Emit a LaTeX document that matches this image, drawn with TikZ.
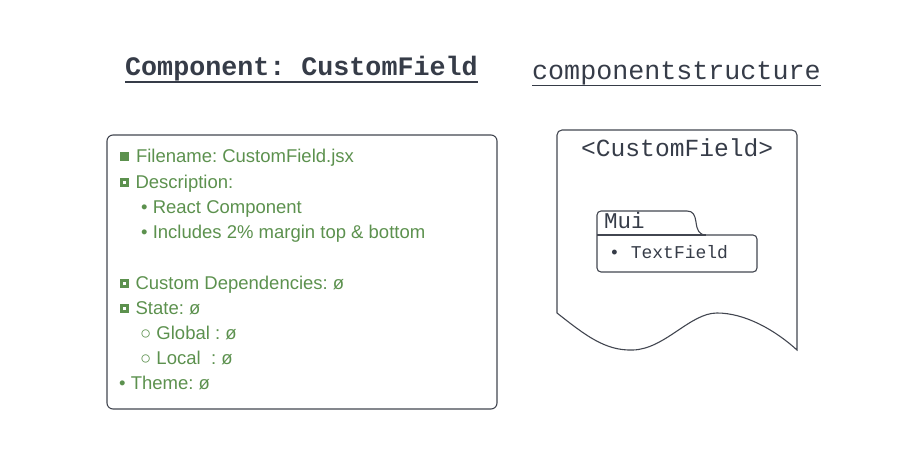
\documentclass[tikz,border=0pt]{standalone}
\usepackage{fontspec}
\setmainfont{Liberation Sans}
\setmonofont{Liberation Mono}
\usepackage{xcolor}
\usetikzlibrary{positioning}
\definecolor{inkdark}{RGB}{54,60,72}
\definecolor{edgegray}{RGB}{66,70,80}
\definecolor{leafgreen}{RGB}{92,145,78}
\frenchspacing
% bullet marks of the list
\newcommand{\fillsq}{\rule[1pt]{8.8pt}{8.8pt}}
\newcommand{\hollowsq}{\makebox[9.4pt][l]{\rule[0.7pt]{9.4pt}{9.4pt}\hspace{-6.5pt}\textcolor{white}{\rule[3.6pt]{3.6pt}{3.6pt}}}}

\begin{document}
\begin{tikzpicture}[x=1pt, y=-1pt,
    heading/.style={inner sep=0pt, anchor=base west, text=inkdark, font=\ttfamily\fontsize{26.7}{30}\selectfont},
    item/.style={inner sep=0pt, anchor=base west, text=leafgreen, font=\fontsize{18.5}{22}\selectfont},
    codetext/.style={inner sep=0pt, anchor=base west, text=inkdark, font=\ttfamily},
    edge/.style={draw=edgegray, line width=1.1pt}]

    \useasboundingbox (0,0) rectangle (898,450);

    % Headings with underlines
    \node[heading, font=\ttfamily\bfseries\fontsize{26.7}{30}\selectfont] (title) at (125,75) {Component: CustomField};
    \draw[inkdark, line width=2.6pt] ([yshift=-7pt]title.base west) -- ([yshift=-7pt]title.base east);
    \node[heading] (struct) at (532,79) {componentstructure};
    \draw[inkdark, line width=1.3pt] ([yshift=-6.5pt]struct.base west) -- ([yshift=-6.5pt]struct.base east);

    % Left info box
    \draw[edge, rounded corners=6pt] (107,135) rectangle (497,409);
    \node[item] (fname) at (120,162) {\fillsq\hspace{7pt}Filename: CustomField.jsx};
    \node[item] (desc) at (119.5,188) {\hollowsq\hspace{6.5pt}Description:};
    \node[item] (react) at (141,213) {• React Component};
    \node[item] (margin) at (141,238) {• Includes 2\% margin top \& bottom};
    \node[item] (deps) at (119.5,289) {\hollowsq\hspace{6.5pt}Custom Dependencies: ø};
    \node[item] (state) at (119.5,314) {\hollowsq\hspace{6.5pt}State: ø};
    \node[item] (global) at (140,339) {○ Global : ø};
    \node[item] (local) at (140,364) {○ Local~~: ø};
    \node[item] (theme) at (119,389) {• Theme: ø};

    % Document shape with wavy bottom
    \draw[edge] (557,313) -- (557,135) arc[start angle=180, end angle=90, radius=5pt]
        -- (792,130) arc[start angle=90, end angle=0, radius=5pt]
        -- (797,350) .. controls (775,330) and (745,313) .. (717,313)
        .. controls (690,313) and (665,349) .. (633,350)
        .. controls (605,351) and (585,335) .. (557,313);
    \node[codetext, font=\ttfamily\fontsize{24.6}{28}\selectfont] (comp) at (581,156) {<CustomField>};

    % Folder for the Mui package
    \draw[edge] (597,235) -- (597,215) arc[start angle=180, end angle=90, radius=4pt]
        -- (687,211) .. controls (693,211) and (695,215) .. (696,222)
        .. controls (697,230) and (699,235) .. (706,235)
        -- (753,235) arc[start angle=90, end angle=0, radius=4pt]
        -- (757,268) arc[start angle=0, end angle=-90, radius=4pt]
        -- (601,272) arc[start angle=270, end angle=180, radius=4pt] -- cycle;
    \draw[edge] (597,235) -- (706,235);
    \node[codetext, font=\ttfamily\fontsize{22.5}{26}\selectfont] (mui) at (604,228) {Mui};
    \node[codetext, font=\ttfamily\fontsize{18}{22}\selectfont] (tfield) at (609,258) {• TextField};

\end{tikzpicture}
\end{document}
